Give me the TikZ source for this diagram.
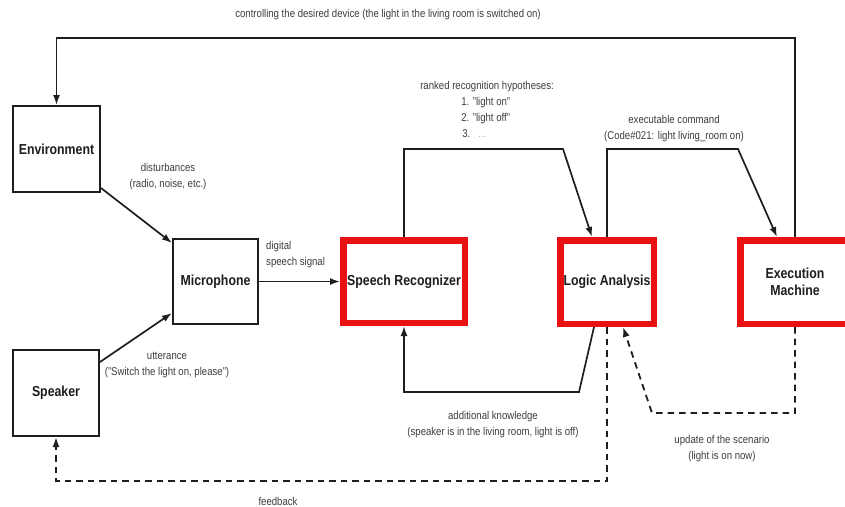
\documentclass[tikz,border=0pt]{standalone}
\usepackage{fontspec}
\setmainfont[FakeStretch=0.85]{Liberation Sans}
\usetikzlibrary{arrows.meta}
\definecolor{boxred}{RGB}{232,18,18}
\definecolor{ink}{RGB}{30,30,30}
\definecolor{lbltext}{RGB}{60,60,60}
\tikzset{
  plainbox/.style={draw=ink, line width=2pt, fill=white, inner sep=0pt,
    font=\fontsize{14.5}{17}\selectfont\bfseries, text=ink, align=center},
  redbox/.style={draw=boxred, line width=6.5pt, fill=white, inner sep=0pt,
    font=\fontsize{14.5}{17}\selectfont\bfseries, text=ink, align=center},
  lbl/.style={font=\fontsize{11.3}{16}\selectfont, text=lbltext, align=center, inner sep=0pt},
  arr/.style={draw=ink, line width=1.7pt, -{Latex[length=10pt,width=7pt]}},
  darr/.style={draw=ink, line width=1.8pt, dash pattern=on 6.5pt off 5pt, -{Latex[length=10pt,width=7pt]}},
}
\begin{document}
\begin{tikzpicture}[x=1pt,y=-1pt]
\useasboundingbox (0,0) rectangle (845,506);
% boxes
\node[plainbox, minimum width=87pt, minimum height=86pt] (env) at (56.5,149) {Environment};
\node[plainbox, minimum width=85pt, minimum height=85pt] (mic) at (215.5,281.5) {Microphone};
\node[plainbox, minimum width=86pt, minimum height=86pt] (spk) at (56,393) {Speaker};
\node[redbox, minimum width=121.5pt, minimum height=82.5pt] (sr) at (404,281.5) {Speech Recognizer};
\node[redbox, minimum width=93.5pt, minimum height=83.5pt] (la) at (607,282) {Logic Analysis};
\node[redbox, minimum width=109.5pt, minimum height=83.5pt] (em) at (795,282) {Execution\\Machine};
% helper coordinates
\coordinate (topL) at (56.5,38);
\coordinate (h1) at (563,149);
\coordinate (h2) at (738,149);
\coordinate (b1) at (579,392);
\coordinate (b2) at (652,413);
\coordinate (b3) at (56,481);
% connectors
\draw[arr] (em.north) |- (topL) -- (env.north);
\draw[arr] ([yshift=-39pt]env.east) -- ([yshift=-5pt]mic.north west);
\draw[arr] ([yshift=31pt]spk.east) -- ([yshift=12pt]mic.south west);
\draw[arr] (mic.east) -- (sr.west);
\draw[arr] (sr.north) |- (h1) -- ([xshift=-15pt]la.north);
\draw[arr] (la.north) |- (h2) -- ([xshift=-18pt]em.north);
\draw[arr] ([xshift=-13pt]la.south) -- (b1) -| (sr.south);
\draw[darr] (em.south) |- (b2) -- ([xshift=16pt]la.south);
\draw[darr] (la.south) |- (b3) -- (spk.south);
% labels
\node[lbl] (ltop) at (388,15) {controlling the desired device (the light in the living room is switched on)};
\node[lbl] (ldist) at (168,176.5) {disturbances\\(radio, noise, etc.)};
\node[lbl, align=left, anchor=west] (ldig) at (266,254.5) {digital\\speech signal};
\node[lbl] (lutt) at (167,365.5) {utterance\\("Switch the light on, please")};
\node[lbl, align=left] (lrank) at (487,109) {ranked recognition hypotheses:\\\hspace*{41pt}1. "light on"\\\hspace*{41pt}2. "light off"\\\hspace*{42pt}3.\hspace{8pt}{\color{lbltext!40}...}};
\node[lbl] (lexec) at (674,129) {executable command\\(Code\#021: light living\_room on)};
\node[lbl] (ladd) at (493,425) {additional knowledge\\(speaker is in the living room, light is off)};
\node[lbl] (lupd) at (722,449) {update of the scenario\\(light is on now)};
\node[lbl] (lfb) at (278,501) {feedback};
\end{tikzpicture}
\end{document}
